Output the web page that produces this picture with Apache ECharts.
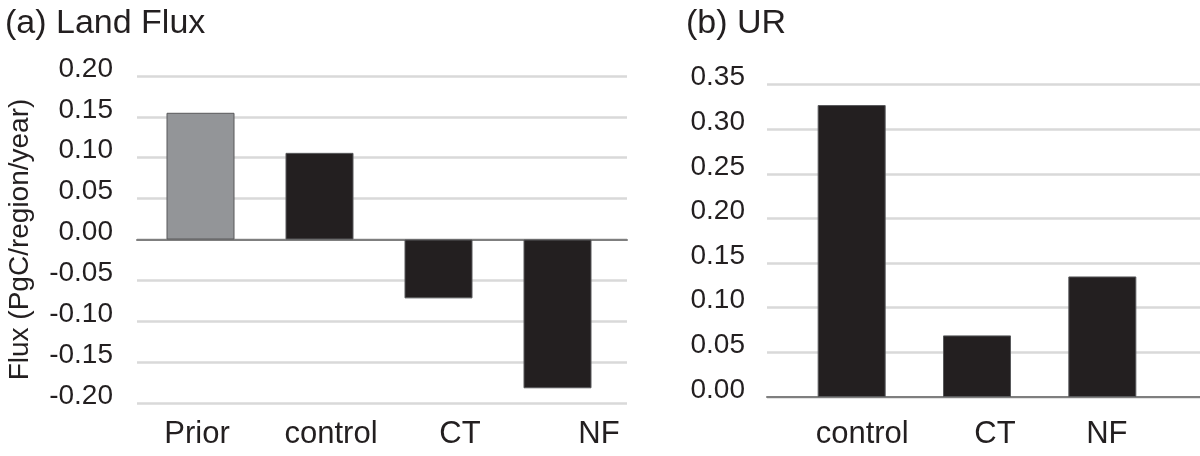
<!DOCTYPE html>
<html>
<head>
<meta charset="utf-8">
<script src="https://cdn.jsdelivr.net/npm/echarts@6/dist/echarts.min.js"></script>
<style>
  html, body { margin: 0; padding: 0; background: #fff; }
  #chart { width: 1200px; height: 456px; }
</style>
</head>
<body>
<div id="chart"></div>
<script>
// ---- Data ----
const landCategories = ['Prior', 'control', 'CT', 'NF'];
const landValues = [0.155, 0.106, -0.072, -0.182];
const landTitle = '(a) Land Flux';
const landAxisName = 'Flux (PgC/region/year)';
const landMin = -0.2, landMax = 0.2, landStep = 0.05;

const urCategories = ['control', 'CT', 'NF'];
const urValues = [0.327, 0.069, 0.135];
const urTitle = '(b) UR';
const urMin = 0, urMax = 0.35, urStep = 0.05;

// ---- Styles ----
const FONT = "'Liberation Sans', Arial, Helvetica, sans-serif";
const TXT = '#231f20';
const BAR = '#231f20';
const PRIOR = '#939598';
const GRIDLINE = '#d9d9d9';
const ZERO = '#7f7f7f';

const chart = echarts.init(document.getElementById('chart'));

function valueAxis(gridIndex, min, max, step, showLabels, margin, extra) {
  return Object.assign({
    type: 'value', gridIndex, min, max, interval: step,
    axisLine: { show: false }, axisTick: { show: false },
    splitLine: { show: showLabels, lineStyle: { color: GRIDLINE, width: 2.5 } },
    axisLabel: {
      show: showLabels, margin, fontFamily: FONT, fontSize: 28, color: TXT,
      verticalAlign: 'bottom', lineHeight: 14,
      formatter: v => v.toFixed(2)
    }
  }, extra || {});
}

function catLabel(margin, pads) {
  const rich = {};
  pads.forEach((p, i) => { rich['c' + i] = { fontFamily: FONT, fontSize: 31, color: TXT, padding: p }; });
  return {
    interval: 0, margin, fontFamily: FONT, fontSize: 31, color: TXT,
    formatter: (v, i) => '{c' + i + '|' + v + '}',
    rich
  };
}

const landColors = landCategories.map(c => c === 'Prior' ? PRIOR : BAR);

const option = {
  backgroundColor: '#fff',
  animation: false,
  title: [
    { text: landTitle, left: 0, top: 2, textStyle: { fontFamily: FONT, fontSize: 34, fontWeight: 'normal', color: TXT } },
    { text: urTitle, left: 681, top: 2, textStyle: { fontFamily: FONT, fontSize: 34, fontWeight: 'normal', color: TXT } }
  ],
  grid: [
    { left: 137, top: 76, width: 490, height: 327 },   // 0: land gridlines
    { left: 141, top: 76, width: 476, height: 327 },   // 1: land bars
    { left: 130, top: 76, width: 536, height: 327 },   // 2: land category labels
    { left: 767, top: 84.5, width: 433, height: 312.5 }, // 3: UR gridlines
    { left: 789, top: 84.5, width: 376, height: 312.5 }, // 4: UR bars
    { left: 801, top: 84.5, width: 367, height: 312.5 }  // 5: UR category labels
  ],
  xAxis: [
    { type: 'category', gridIndex: 0, data: landCategories,
      axisLine: { show: true, onZero: true, lineStyle: { color: ZERO, width: 2 } },
      axisTick: { show: false }, axisLabel: { show: false }, splitLine: { show: false } },
    { type: 'category', gridIndex: 1, data: landCategories, show: false },
    { type: 'category', gridIndex: 2, data: landCategories,
      axisLine: { show: false }, axisTick: { show: false },
      axisLabel: catLabel(16, [[0, 0, 0, 0], [0, 0, 0, 0], [0, 10, 0, 0], [0, 0, 0, 0]]) },
    { type: 'category', gridIndex: 3, data: urCategories,
      axisLine: { show: true, onZero: true, lineStyle: { color: ZERO, width: 2 } },
      axisTick: { show: false }, axisLabel: { show: false }, splitLine: { show: false } },
    { type: 'category', gridIndex: 4, data: urCategories, show: false },
    { type: 'category', gridIndex: 5, data: urCategories,
      axisLine: { show: false }, axisTick: { show: false },
      axisLabel: catLabel(22, [[0, 0, 0, 0], [0, 0, 0, 21], [0, 0, 0, 0]]) }
  ],
  yAxis: [
    valueAxis(0, landMin, landMax, landStep, true, 24, {
      name: landAxisName, nameLocation: 'middle', nameGap: 103,
      nameTextStyle: { fontFamily: FONT, fontSize: 28, color: TXT }
    }),
    valueAxis(1, landMin, landMax, landStep, false, 0, { show: false }),
    valueAxis(2, landMin, landMax, landStep, false, 0, { show: false }),
    valueAxis(3, urMin, urMax, urStep, true, 22),
    valueAxis(4, urMin, urMax, urStep, false, 0, { show: false }),
    valueAxis(5, urMin, urMax, urStep, false, 0, { show: false })
  ],
  series: [
    { type: 'bar', xAxisIndex: 1, yAxisIndex: 1, barWidth: 68,
      data: landValues.map((v, i) => ({ value: v, itemStyle: { color: landColors[i], borderColor: '#58595b', borderWidth: 1 } })) },
    { type: 'bar', xAxisIndex: 4, yAxisIndex: 4, barWidth: 68,
      data: urValues.map(v => ({ value: v, itemStyle: { color: BAR, borderColor: '#58595b', borderWidth: 1 } })) }
  ]
};
chart.setOption(option);
</script>
</body>
</html>
